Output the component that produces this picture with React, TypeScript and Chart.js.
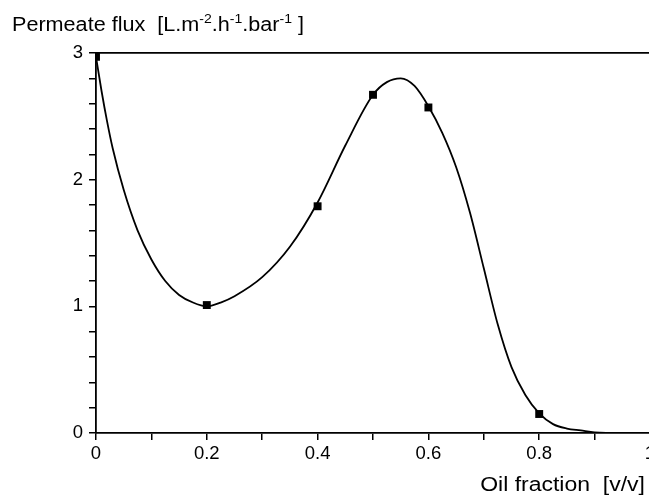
import React, { useEffect, useRef } from 'react';
import { Chart, registerables } from 'chart.js';

Chart.register(...registerables);

// Fitted curve
const curveX = [0, 0.01, 0.02, 0.03, 0.05, 0.075, 0.1, 0.125, 0.15, 0.175, 0.2, 0.225, 0.25, 0.3, 0.35, 0.4, 0.45, 0.5, 0.525, 0.55, 0.575, 0.6, 0.625, 0.65, 0.675, 0.7, 0.725, 0.75, 0.775, 0.8, 0.825, 0.85, 0.875, 0.9, 0.95, 1.0];
const curveY = [2.97, 2.7, 2.46, 2.25, 1.92, 1.6, 1.37, 1.2, 1.09, 1.03, 1.0, 1.03, 1.08, 1.23, 1.47, 1.82, 2.27, 2.67, 2.77, 2.8, 2.74, 2.58, 2.37, 2.1, 1.74, 1.3, 0.86, 0.52, 0.3, 0.155, 0.07, 0.035, 0.02, 0.005, 0, 0];

// Measured points
const measuredX = [0, 0.2, 0.4, 0.5, 0.6, 0.8];
const measuredY = [2.97, 1.01, 1.79, 2.67, 2.57, 0.15];

// Axis ranges / tick labels
const xMin = 0;
const xMax = 1;
const xStep = 0.1;
const xLabelValues = [0, 0.2, 0.4, 0.6, 0.8, 1];
const yMin = 0;
const yMax = 3;
const yStep = 0.2;
const yLabelValues = [0, 1, 2, 3];

const yTitleParts = [
  { text: 'Permeate flux  [L.m', sup: false },
  { text: '-2', sup: true },
  { text: '.h', sup: false },
  { text: '-1', sup: true },
  { text: '.bar', sup: false },
  { text: '-1', sup: true },
  { text: ' ]', sup: false },
];
const xTitle = 'Oil fraction  [v/v]';

const FONT = '"Liberation Sans", Arial, Helvetica, sans-serif';

const titlesPlugin = {
  id: 'titles',
  afterDraw(chart: any) {
    const ctx = chart.ctx as CanvasRenderingContext2D;
    ctx.save();
    ctx.fillStyle = '#000';
    ctx.textBaseline = 'alphabetic';
    // y title with superscripts
    ctx.save();
    ctx.translate(12, 31);
    ctx.scale(1.08, 1);
    let x = 0;
    for (const p of yTitleParts) {
      ctx.font = p.sup ? `13px ${FONT}` : `20px ${FONT}`;
      ctx.fillText(p.text, x, p.sup ? -8 : 0);
      x += ctx.measureText(p.text).width;
    }
    ctx.restore();
    // x title, right aligned
    ctx.save();
    ctx.font = `20px ${FONT}`;
    const w = ctx.measureText(xTitle).width * 1.15;
    ctx.translate(645 - w, 491);
    ctx.scale(1.15, 1);
    ctx.textAlign = 'left';
    ctx.fillText(xTitle, 0, 0);
    ctx.restore();
    ctx.restore();
  },
};

export default function App() {
  const ref = useRef<HTMLCanvasElement | null>(null);

  useEffect(() => {
    if (!ref.current) return;
    const chart = new Chart(ref.current, {
      type: 'line',
      data: {
        datasets: [
          {
            label: 'fit',
            data: curveX.map((v, i) => ({ x: v, y: curveY[i] })),
            borderColor: '#000',
            borderWidth: 1.8,
            pointRadius: 0,
            cubicInterpolationMode: 'monotone',
            fill: false,
          },
          {
            label: 'measured',
            data: measuredX.map((v, i) => ({ x: v, y: measuredY[i] })),
            showLine: false,
            pointStyle: 'rect',
            pointRadius: 5.6,
            pointBackgroundColor: '#000',
            pointBorderColor: '#000',
            pointBorderWidth: 0,
          },
        ],
      },
      options: {
        responsive: false,
        animation: false,
        devicePixelRatio: 1,
        layout: { padding: { top: 53, right: 10, left: 0, bottom: 0 } },
        plugins: {
          legend: { display: false },
          tooltip: { enabled: false },
          title: { display: false },
        },
        scales: {
          x: {
            type: 'linear',
            position: 'bottom',
            min: xMin,
            max: xMax,
            afterFit(s: any) { s.height = 64; },
            afterBuildTicks(s: any) {
              const t = [];
              for (let i = 0; i <= Math.round((xMax - xMin) / xStep); i++) t.push({ value: +(xMin + i * xStep).toFixed(2) });
              s.ticks = t;
            },
            ticks: {
              autoSkip: false,
              maxRotation: 0,
              color: '#000',
              padding: 3,
              font: { size: 18.5, family: FONT },
              callback: (v: any) => {
                const n = +(+v).toFixed(2);
                return xLabelValues.some((l) => Math.abs(l - n) < 1e-6) ? String(n) : '';
              },
            },
            grid: { drawOnChartArea: false, drawTicks: true, tickLength: 7, color: '#000', lineWidth: 1.5 },
            border: { display: true, color: '#000', width: 1.8 },
          },
          xTop: {
            type: 'linear',
            position: 'top',
            min: xMin,
            max: xMax,
            afterFit(s: any) { s.height = 0; },
            ticks: { display: false },
            grid: { drawOnChartArea: false, drawTicks: false },
            border: { display: true, color: '#000', width: 1.8 },
          },
          y: {
            type: 'linear',
            min: yMin,
            max: yMax,
            afterFit(s: any) { s.width = 96; },
            afterBuildTicks(s: any) {
              const t = [];
              for (let i = 0; i <= Math.round((yMax - yMin) / yStep); i++) t.push({ value: +(yMin + i * yStep).toFixed(2) });
              s.ticks = t;
            },
            ticks: {
              autoSkip: false,
              color: '#000',
              padding: 6,
              font: { size: 18.5, family: FONT },
              callback: (v: any) => {
                const n = +(+v).toFixed(2);
                return yLabelValues.some((l) => Math.abs(l - n) < 1e-6) ? String(n) : '';
              },
            },
            grid: { drawOnChartArea: false, drawTicks: true, tickLength: 7, color: '#000', lineWidth: 1.5 },
            border: { display: true, color: '#000', width: 1.8 },
          },
        },
      },
      plugins: [titlesPlugin],
    } as any);
    return () => chart.destroy();
  }, []);

  return (
    <div style={{ position: 'fixed', left: 0, top: 0, width: 649, height: 497, overflow: 'hidden', background: '#fff' }}>
      <canvas ref={ref} width={660} height={497} style={{ display: 'block', width: 660, height: 497 }} />
    </div>
  );
}
